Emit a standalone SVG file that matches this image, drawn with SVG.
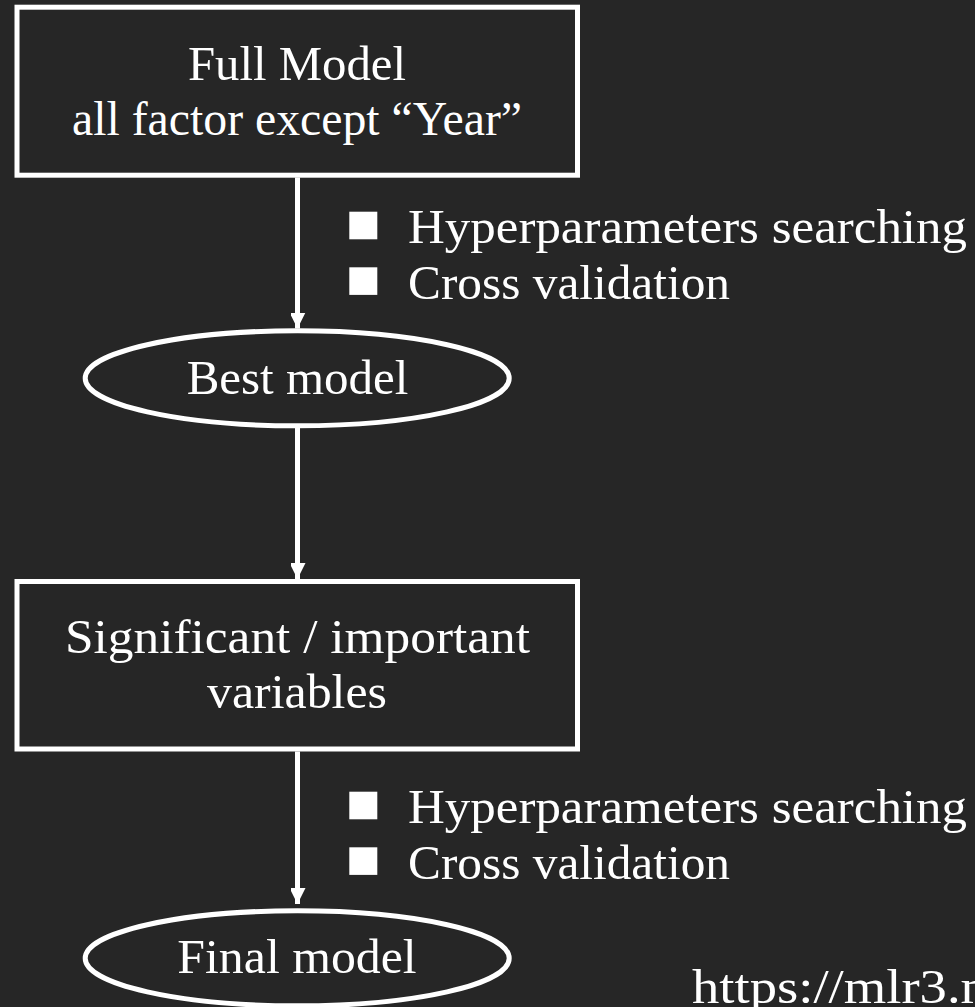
<svg xmlns="http://www.w3.org/2000/svg" width="975" height="1007" viewBox="0 0 975 1007">
<style>
.bg{fill:#262626}
.node{fill:#262626;stroke:#ffffff;stroke-width:5}
.lbl{font-family:"Liberation Serif","Times New Roman",serif;font-size:48px;fill:#ffffff}
.mid{text-anchor:middle}
.edge{stroke:#ffffff;stroke-width:5;fill:none}
.bullet{fill:#ffffff}
</style>
<defs>
<marker id="arrow" markerUnits="userSpaceOnUse" markerWidth="16" markerHeight="15" refX="16" refY="8" orient="auto">
<path d="M0,0 L16,8 L0,16 Z" fill="#ffffff"/>
</marker>
</defs>
<rect class="bg" x="0" y="0" width="975" height="1007"/>
<g id="connectors">
<line class="edge" x1="297.5" y1="177.5" x2="297.5" y2="328.5" marker-end="url(#arrow)"/>
<line class="edge" x1="297.5" y1="428" x2="297.5" y2="579" marker-end="url(#arrow)"/>
<line class="edge" x1="297.5" y1="751.5" x2="297.5" y2="904" marker-end="url(#arrow)"/>
</g>
<g id="node-full-model">
<rect class="node" x="17" y="7.2" width="560.5" height="168"/>
<text class="lbl mid" x="297" y="80" textLength="218" lengthAdjust="spacingAndGlyphs">Full Model</text>
<text class="lbl mid" x="297" y="135" textLength="450" lengthAdjust="spacingAndGlyphs">all factor except “Year”</text>
</g>
<g id="label-tuning-1">
<rect class="bullet" x="349.3" y="211.7" width="28" height="27.6"/>
<rect class="bullet" x="349.3" y="267.3" width="28" height="27.6"/>
<text class="lbl" x="408" y="243" textLength="559" lengthAdjust="spacingAndGlyphs">Hyperparameters searching</text>
<text class="lbl" x="408" y="298.6" textLength="322" lengthAdjust="spacingAndGlyphs">Cross validation</text>
</g>
<g id="node-best-model">
<ellipse class="node" cx="297.2" cy="378.3" rx="212" ry="47.5"/>
<text class="lbl mid" x="297.5" y="394" textLength="221.7" lengthAdjust="spacingAndGlyphs">Best model</text>
</g>
<g id="node-significant">
<rect class="node" x="17" y="581.5" width="560.5" height="167.5"/>
<text class="lbl mid" x="297.5" y="653.3" textLength="465" lengthAdjust="spacingAndGlyphs">Significant / important</text>
<text class="lbl mid" x="297" y="708.3" textLength="180" lengthAdjust="spacingAndGlyphs">variables</text>
</g>
<g id="label-tuning-2">
<rect class="bullet" x="349.3" y="791.7" width="28" height="27.6"/>
<rect class="bullet" x="349.3" y="847.3" width="28" height="27.6"/>
<text class="lbl" x="408" y="823" textLength="559" lengthAdjust="spacingAndGlyphs">Hyperparameters searching</text>
<text class="lbl" x="408" y="878.6" textLength="322" lengthAdjust="spacingAndGlyphs">Cross validation</text>
</g>
<g id="node-final-model">
<ellipse class="node" cx="297.2" cy="958.3" rx="212" ry="47.5"/>
<text class="lbl mid" x="297" y="973.3" textLength="239.3" lengthAdjust="spacingAndGlyphs">Final model</text>
</g>
<g id="source">
<text class="lbl" x="692" y="1003.3" textLength="541" lengthAdjust="spacingAndGlyphs">https://mlr3.mlr-org.com</text>
</g>
</svg>
